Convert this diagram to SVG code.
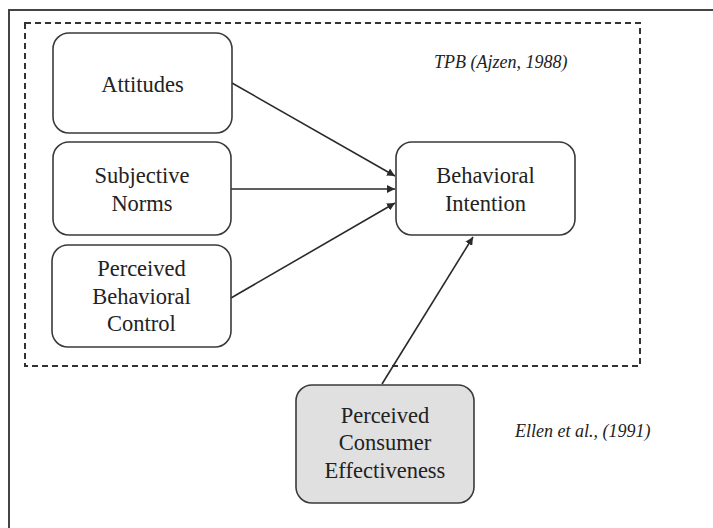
<svg xmlns="http://www.w3.org/2000/svg" width="713" height="528" viewBox="0 0 713 528">
  <style>
    .frame { fill: #ffffff; stroke: #444444; stroke-width: 2; }
    .scope { fill: none; stroke: #333333; stroke-width: 2; stroke-dasharray: 6 4; }
    .box { fill: #ffffff; stroke: #3a3a3a; stroke-width: 1.6; }
    .box.shaded { fill: #e0e0e0; }
    .label { font-family: 'Liberation Serif', 'Times New Roman', serif; font-size: 22.5px; fill: #222222; text-anchor: middle; }
    .cite { font-family: 'Liberation Serif', 'Times New Roman', serif; font-size: 18px; font-style: italic; fill: #222222; }
    .edge { stroke: #2a2a2a; stroke-width: 1.6; fill: none; marker-end: url(#arrow); }
  </style>
  <defs>
    <marker id="arrow" viewBox="0 0 10 10" refX="10" refY="5" markerWidth="5" markerHeight="5" orient="auto" markerUnits="strokeWidth">
      <path d="M0,0 L10,5 L0,10 z" fill="#2a2a2a"/>
    </marker>
  </defs>

  <rect width="713" height="528" fill="#ffffff"/>
  <!-- outer frame -->
  <rect class="frame" x="9" y="10" width="720" height="530"/>
  <!-- TPB scope -->
  <rect class="scope" x="25" y="23" width="615" height="343"/>
  <text class="cite" x="434" y="68">TPB (Ajzen, 1988)</text>
  <text class="cite" x="515" y="437">Ellen et al., (1991)</text>

  <g id="connectors">
    <line class="edge" x1="232" y1="83" x2="395" y2="176"/>
    <line class="edge" x1="231" y1="189" x2="395" y2="189"/>
    <line class="edge" x1="231" y1="298" x2="395" y2="203"/>
    <line class="edge" x1="382" y1="384" x2="473" y2="237"/>
  </g>

  <g id="attitudes">
    <rect class="box" x="53" y="33" width="179" height="100" rx="16"/>
    <text class="label" x="142.5" y="92">Attitudes</text>
  </g>
  <g id="subjective-norms">
    <rect class="box" x="53" y="142" width="178" height="93" rx="16"/>
    <text class="label" x="142" y="183">Subjective</text>
    <text class="label" x="142" y="211">Norms</text>
  </g>
  <g id="perceived-behavioral-control">
    <rect class="box" x="52" y="245" width="179" height="102" rx="16"/>
    <text class="label" x="141.5" y="276">Perceived</text>
    <text class="label" x="141.5" y="304">Behavioral</text>
    <text class="label" x="141.5" y="331">Control</text>
  </g>
  <g id="behavioral-intention">
    <rect class="box" x="396" y="142" width="179" height="93" rx="16"/>
    <text class="label" x="485.5" y="183">Behavioral</text>
    <text class="label" x="485.5" y="211">Intention</text>
  </g>
  <g id="perceived-consumer-effectiveness">
    <rect class="box shaded" x="296" y="385" width="178" height="118" rx="16"/>
    <text class="label" x="385" y="423">Perceived</text>
    <text class="label" x="385" y="450">Consumer</text>
    <text class="label" x="385" y="478">Effectiveness</text>
  </g>
</svg>
